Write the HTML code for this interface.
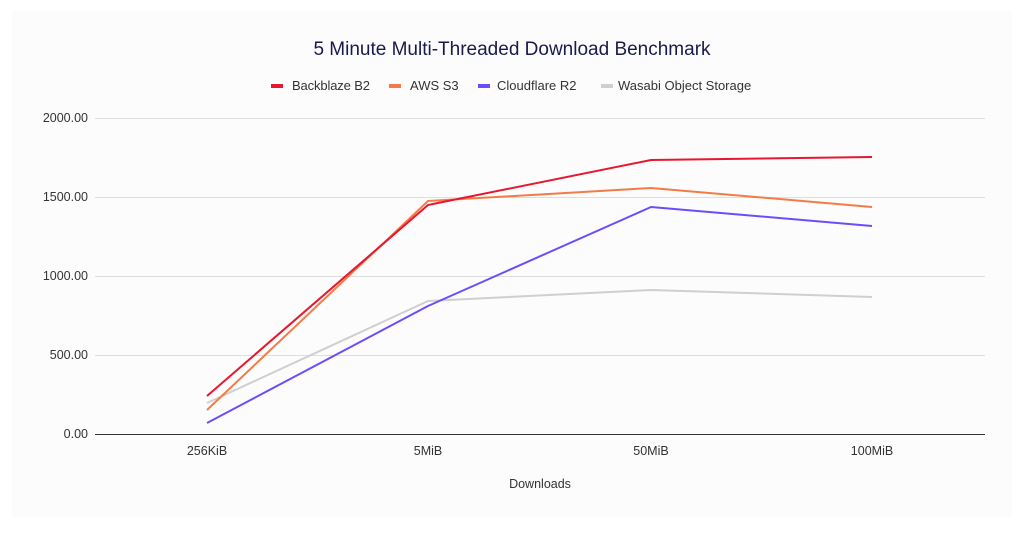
<!DOCTYPE html>
<html><head><style>
body{margin:0;background:#fff;}
svg{display:block;font-family:"Liberation Sans",Arial,sans-serif;}
</style></head><body>
<svg width="1024" height="538" viewBox="0 0 1024 538">
<rect x="12" y="10" width="1000" height="508" fill="#fcfcfc"/>
<text x="512" y="55" text-anchor="middle" font-size="19" fill="#1a1a4a">5 Minute Multi-Threaded Download Benchmark</text>
<g font-size="13" fill="#333">
<rect x="271" y="84" width="12" height="4" fill="#e8172f"/><text x="292" y="90" textLength="78">Backblaze B2</text>
<rect x="389" y="84" width="12" height="4" fill="#f47b47"/><text x="410" y="90">AWS S3</text>
<rect x="478" y="84" width="12" height="4" fill="#6f4cfb"/><text x="497" y="90">Cloudflare R2</text>
<rect x="601" y="84" width="12" height="4" fill="#cfcfcf"/><text x="618" y="90">Wasabi Object Storage</text>
</g>
<g stroke="#dedede" stroke-width="1">
<line x1="95" y1="118.5" x2="985" y2="118.5"/>
<line x1="95" y1="197.5" x2="985" y2="197.5"/>
<line x1="95" y1="276.5" x2="985" y2="276.5"/>
<line x1="95" y1="355.5" x2="985" y2="355.5"/>
</g>
<line x1="95" y1="434.5" x2="985" y2="434.5" stroke="#333" stroke-width="1"/>
<g font-size="12.5" fill="#333" text-anchor="end">
<text x="88" y="122">2000.00</text>
<text x="88" y="201">1500.00</text>
<text x="88" y="280">1000.00</text>
<text x="88" y="359">500.00</text>
<text x="88" y="438">0.00</text>
</g>
<g font-size="12.5" fill="#333" text-anchor="middle">
<text x="207" y="455">256KiB</text>
<text x="428" y="455">5MiB</text>
<text x="651" y="455">50MiB</text>
<text x="872" y="455">100MiB</text>
<text x="540" y="488">Downloads</text>
</g>
<g fill="none" stroke-width="2" stroke-linejoin="round">
<polyline stroke="#cfcfcf" points="207,403 428,301 651,290 872,297"/>
<polyline stroke="#6f4cfb" points="207,423 428,306 651,207 872,226"/>
<polyline stroke="#f47b47" points="207,410 428,201 651,188 872,207"/>
<polyline stroke="#e8172f" points="207,396 428,205 651,160 872,157"/>
</g>
</svg>
</body></html>
